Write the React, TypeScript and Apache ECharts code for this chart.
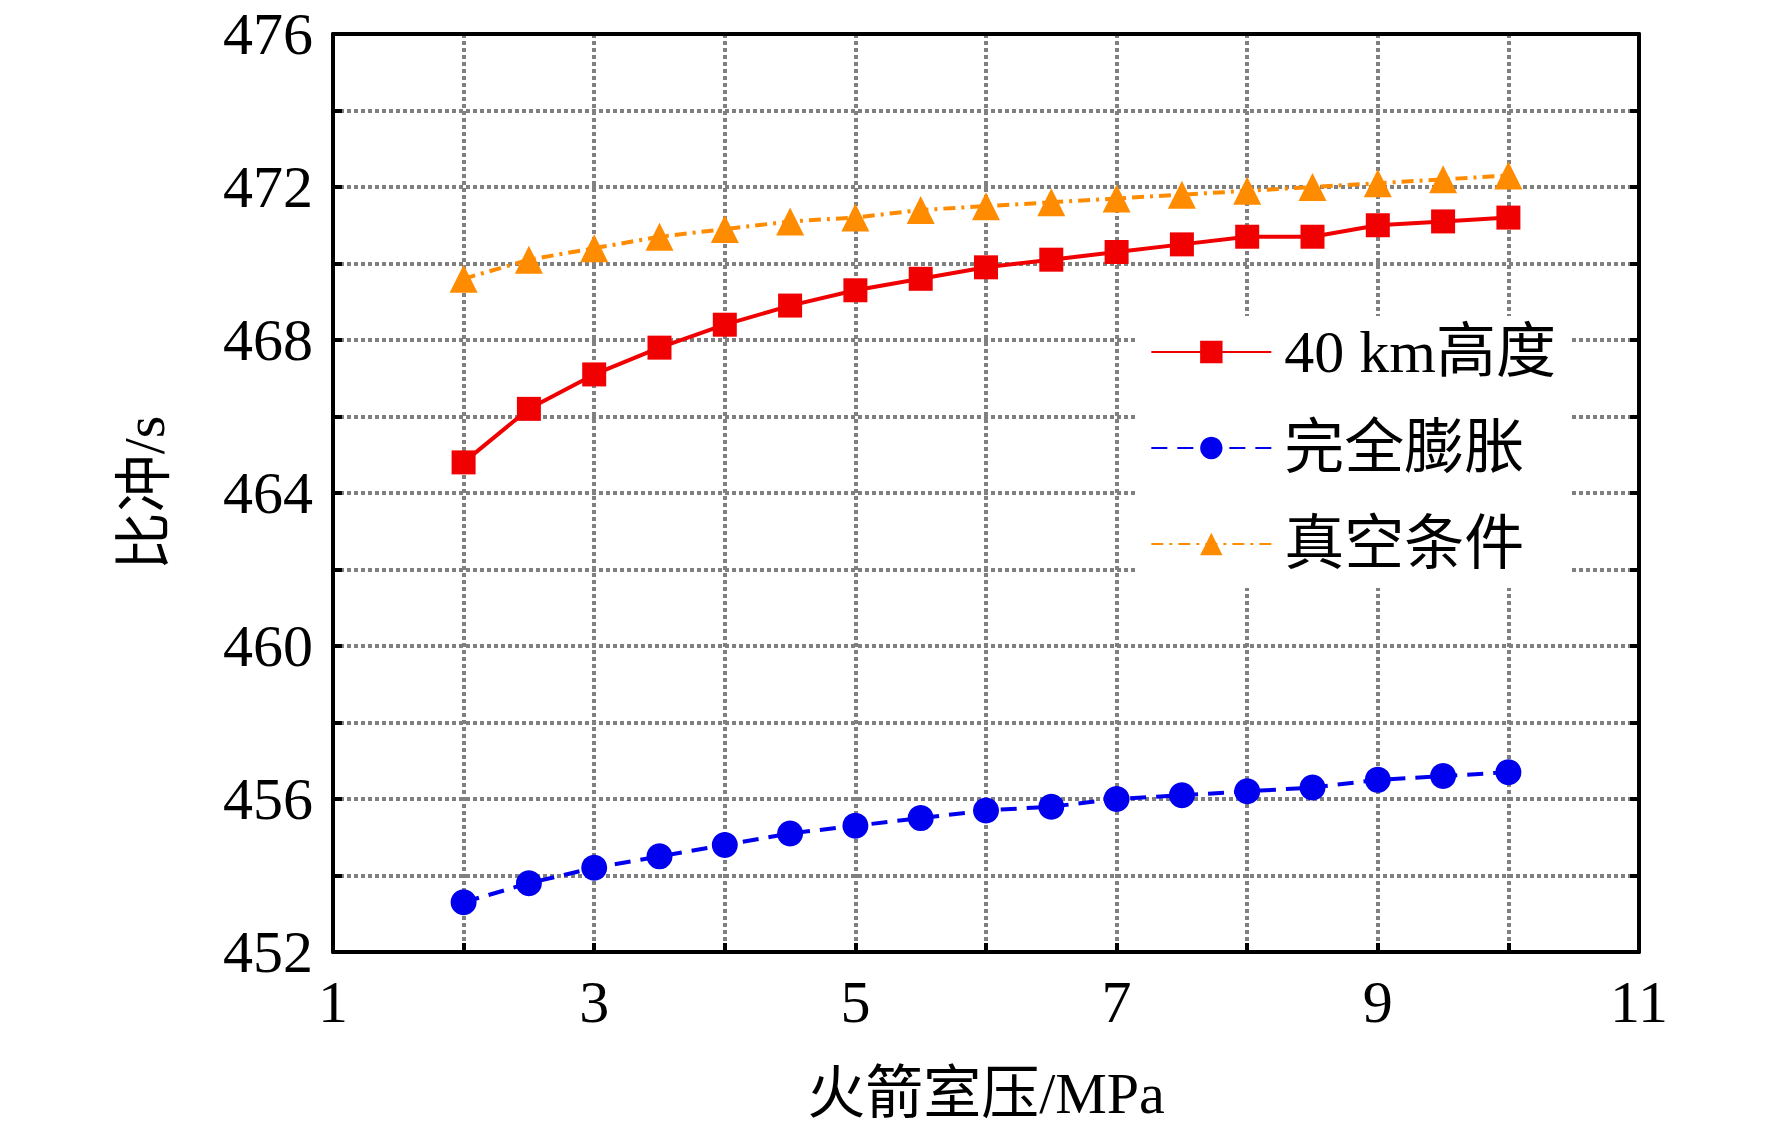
import React, { useEffect, useRef } from 'react';
import * as echarts from 'echarts';

const pressures = [2, 2.5, 3, 3.5, 4, 4.5, 5, 5.5, 6, 6.5, 7, 7.5, 8, 8.5, 9, 9.5, 10];
const alt40 = [464.8, 466.2, 467.1, 467.8, 468.4, 468.9, 469.3, 469.6, 469.9, 470.1, 470.3, 470.5, 470.7, 470.7, 471.0, 471.1, 471.2];
const fullExp = [453.3, 453.8, 454.2, 454.5, 454.8, 455.1, 455.3, 455.5, 455.7, 455.8, 456.0, 456.1, 456.2, 456.3, 456.5, 456.6, 456.7];
const vacuum = [469.6, 470.1, 470.4, 470.7, 470.9, 471.1, 471.2, 471.4, 471.5, 471.6, 471.7, 471.8, 471.9, 472.0, 472.1, 472.2, 472.3];
const names = ['40 km高度', '完全膨胀', '真空条件'];

const FONT = '"Liberation Serif", "Noto Sans CJK SC", serif';

const App: React.FC = () => {
    const chartRef = useRef<HTMLDivElement | null>(null);

    useEffect(() => {
        document.body.style.margin = '0';
        if (!chartRef.current) return;
        const myChart = echarts.init(chartRef.current, undefined, { renderer: 'svg' });
        const zip = (v: number[]) => pressures.map((p, i) => [p, v[i]]);
        const grid = { lineStyle: { color: '#808080', type: [4, 3], width: 4 } };
        const option = {
            animation: false,
            backgroundColor: '#fff',
            grid: { left: 333, right: 133, top: 34, bottom: 180 },
            legend: {
                orient: 'vertical',
                right: 200, top: 316,
                backgroundColor: '#fff',
                padding: [6, 16, 14, 14],
                itemWidth: 120, itemHeight: 28, itemGap: 36,
                textStyle: { fontFamily: FONT, fontSize: 60, color: '#000', padding: [0, 0, 0, 8] },
                data: names
            },
            xAxis: [{
                type: 'value', min: 1, max: 11, interval: 1,
                axisLine: { onZero: false, lineStyle: { color: '#000', width: 4 } },
                axisTick: { inside: true, length: 9, lineStyle: { width: 4, color: '#000' } },
                axisLabel: {
                    fontFamily: FONT, fontSize: 60, color: '#000', margin: 20,
                    formatter: (v: number) => (v % 2 === 1 ? String(v) : '')
                },
                splitLine: grid,
                name: '火箭室压/MPa', nameLocation: 'middle', nameGap: 112,
                nameTextStyle: { fontFamily: FONT, fontSize: 58, color: '#000' }
            }, {
                type: 'value', position: 'top', min: 1, max: 11, interval: 1,
                axisLine: { lineStyle: { color: '#000', width: 4 } },
                axisTick: { show: false }, axisLabel: { show: false }, splitLine: { show: false }
            }],
            yAxis: [{
                type: 'value', min: 452, max: 476, interval: 2,
                axisLine: { show: true, lineStyle: { color: '#000', width: 4 } },
                axisTick: { show: true, inside: true, length: 9, lineStyle: { width: 4, color: '#000' } },
                axisLabel: {
                    fontFamily: FONT, fontSize: 60, color: '#000', margin: 20,
                    formatter: (v: number) => (v % 4 === 0 ? String(v) : '')
                },
                splitLine: grid,
                name: '比冲/s', nameLocation: 'middle', nameGap: 160,
                nameTextStyle: { fontFamily: FONT, fontSize: 58, color: '#000' }
            }, {
                type: 'value', position: 'right', min: 452, max: 476, interval: 2,
                axisLine: { show: true, lineStyle: { color: '#000', width: 4 } },
                axisTick: { show: true, inside: true, length: 9, lineStyle: { width: 4, color: '#000' } },
                axisLabel: { show: false }, splitLine: { show: false }
            }],
            series: [
                {
                    name: names[0], type: 'line', data: zip(alt40), symbol: 'rect', symbolSize: 24,
                    itemStyle: { color: '#f00000' }, lineStyle: { color: '#f00000', width: 4 }
                },
                {
                    name: names[1], type: 'line', data: zip(fullExp), symbol: 'circle', symbolSize: 26,
                    itemStyle: { color: '#0000ee' }, lineStyle: { color: '#0000ee', width: 4, type: [16, 10] }
                },
                {
                    name: names[2], type: 'line', data: zip(vacuum), symbol: 'triangle', symbolSize: 28,
                    itemStyle: { color: '#ff8c00' }, lineStyle: { color: '#ff8c00', width: 4, type: [12, 6, 3, 6] }
                }
            ]
        };
        myChart.setOption(option);
        return () => { myChart.dispose(); };
    }, []);

    return <div ref={chartRef} style={{ width: '1772px', height: '1132px' }} />;
};

export default App;
